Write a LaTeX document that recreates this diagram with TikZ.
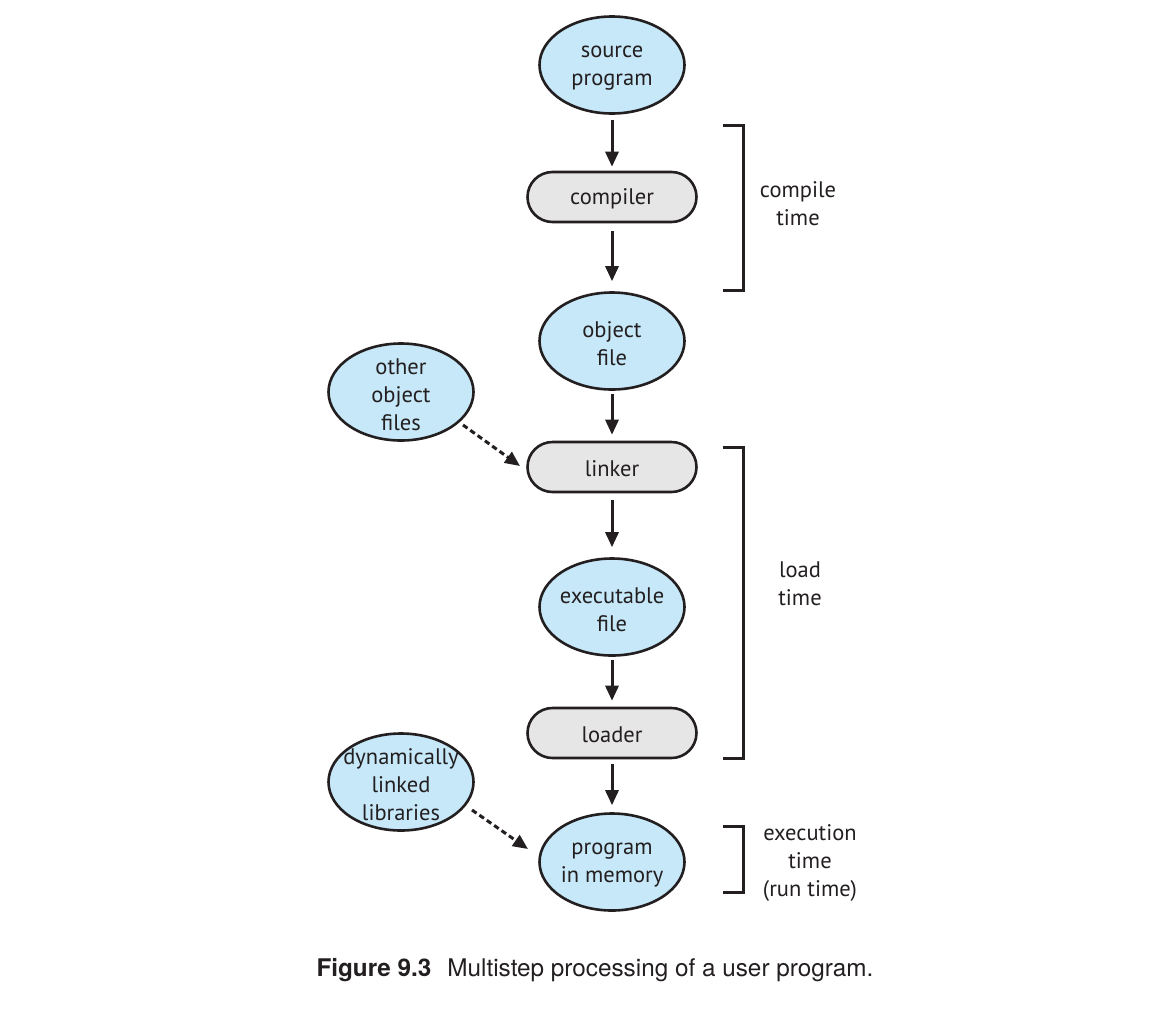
\documentclass[tikz,border=0pt]{standalone}
\usepackage{fontspec}
\setmainfont{PT Sans}
\newfontfamily\capfont{TeX Gyre Heros}
\usetikzlibrary{shapes.geometric,shapes.misc,arrows.meta}
\definecolor{ink}{HTML}{231F20}
\definecolor{blueFill}{HTML}{C6E8F8}
\definecolor{grayFill}{HTML}{E6E6E6}
\tikzset{
  x=1pt,y=-1pt,
  every node/.style={font=\fontsize{22.5}{28}\selectfont, text=ink},
  txt/.style={align=center, inner sep=0pt},
  oval/.style={ellipse, draw=ink, line width=2.6pt, fill=blueFill, minimum width=145pt, minimum height=97pt, inner sep=0pt,
    label={[txt, yshift=-3pt]center:#1}},
  pill/.style={rounded rectangle, draw=ink, line width=2.6pt, fill=grayFill, minimum width=169pt, minimum height=50pt, inner sep=0pt,
    label={[txt, yshift=-2pt]center:#1}},
  flow/.style={draw=ink, line width=3pt, -{Triangle[length=15pt,width=13pt]}},
  dflow/.style={draw=ink, line width=3pt, dash pattern=on 5.5pt off 3.5pt, -{Triangle[length=15pt,width=13pt]}},
  brace/.style={draw=ink, line width=3pt},
  lbl/.style={align=center}
}
\begin{document}
\begin{tikzpicture}
\useasboundingbox (0,0) rectangle (1154,1023);
\node[oval={source\\program}] (src) at (612,65) {};
\node[pill={compiler}] (comp) at (612,197) {};
\node[oval={object\\file}] (obj) at (612,341) {};
\node[pill={linker}] (link) at (612,467) {};
\node[oval={executable\\file}] (exe) at (612,607) {};
\node[pill={loader}] (load) at (612,733) {};
\node[oval={program\\in memory}] (mem) at (612,862) {};
\node[oval={other\\object\\files}] (other) at (401,392) {};
\node[oval={dynamically\\linked\\libraries}] (dll) at (401,782) {};

\draw[flow, shorten <=5pt, shorten >=4pt] (src) -- (comp);
\draw[flow, shorten <=8pt, shorten >=10pt] (comp) -- (obj);
\draw[flow, shorten <=3pt, shorten >=6pt] (obj) -- (link);
\draw[flow, shorten <=7pt, shorten >=10pt] (link) -- (exe);
\draw[flow, shorten <=3pt, shorten >=6pt] (exe) -- (load);
\draw[flow, shorten <=5pt, shorten >=7pt] (load) -- (mem);
\coordinate (oe) at (463,425);
\coordinate (oend) at (520,466);
\coordinate (de) at (472,810);
\coordinate (dend) at (528,849);
\draw[dflow] (oe) -- (oend);
\draw[dflow] (de) -- (dend);

\draw[brace] (723,125) -- (743,125) -- (743,290) -- (723,290);
\draw[brace] (723,447) -- (743,447) -- (743,758) -- (723,758);
\draw[brace] (723,826) -- (743,826) -- (743,892) -- (723,892);
\node[lbl] (ct) at (798,204) {compile\\time};
\node[lbl] (lt) at (800,584) {load\\time};
\node[lbl] (et) at (810,863) {execution\\time\\(run time)};

\node[anchor=west, font=\capfont\fontsize{24.3}{28}\selectfont] (cap) at (313,970) {\textbf{Figure 9.3}\hspace{16pt}Multistep processing of a user program.};
\end{tikzpicture}
\end{document}
